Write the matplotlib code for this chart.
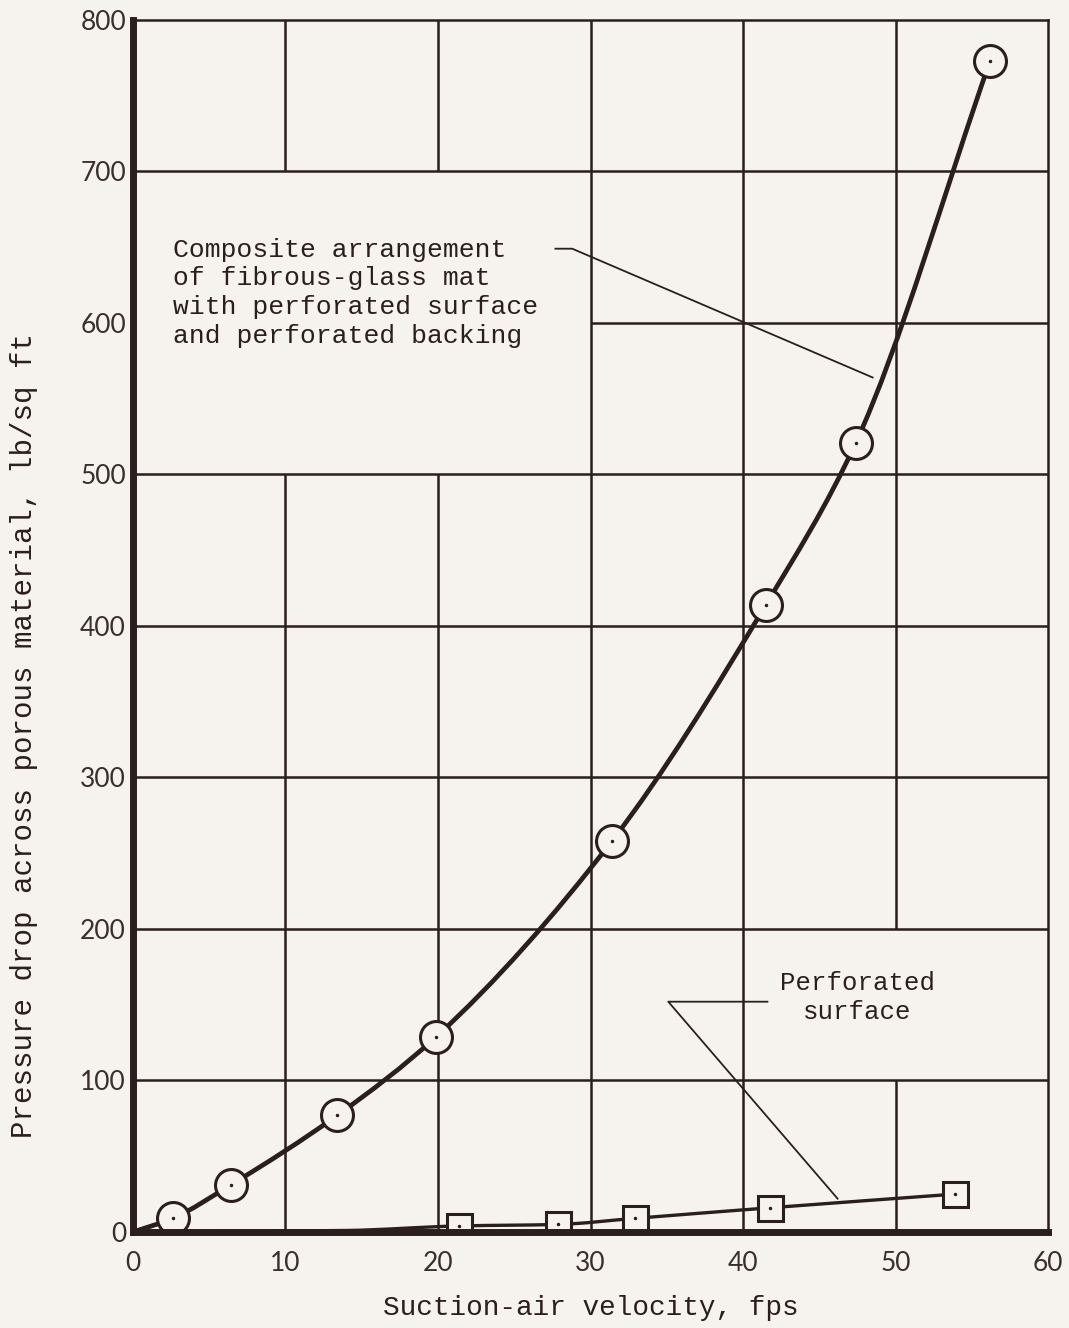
import numpy as np
import matplotlib
matplotlib.use("Agg")
import matplotlib.pyplot as plt
from matplotlib.path import Path
from matplotlib.patches import PathPatch

# values
composite_v = [2.6, 6.4, 13.4, 19.9, 31.4, 41.5, 47.4, 56.2]
composite_dp = [9, 31, 77, 129, 258, 414, 521, 773]
perforated_v = [21.4, 27.9, 32.9, 41.8, 53.9]
perforated_dp = [4, 5, 9, 16, 25]
x_ticks = [0, 10, 20, 30, 40, 50, 60]
y_ticks = [0, 100, 200, 300, 400, 500, 600, 700, 800]

ink = '#2a1e1e'
paper = '#f6f3ee'
mono = 'Liberation Mono'


def smooth_path(xs, ys):
    # faired curve through the read points: cubic bezier pieces with
    # monotone (Fritsch-Carlson) slopes
    x = np.asarray(xs, float)
    y = np.asarray(ys, float)
    h = np.diff(x)
    d = np.diff(y) / h
    m = np.zeros_like(x)
    m[0], m[-1] = d[0], d[-1]
    for i in range(1, len(x) - 1):
        if d[i - 1] * d[i] <= 0:
            m[i] = 0
        else:
            w1 = 2 * h[i] + h[i - 1]
            w2 = h[i] + 2 * h[i - 1]
            m[i] = (w1 + w2) / (w1 / d[i - 1] + w2 / d[i])
    verts = [(x[0], y[0])]
    codes = [Path.MOVETO]
    for i in range(len(x) - 1):
        verts += [(x[i] + h[i] / 3, y[i] + m[i] * h[i] / 3),
                  (x[i + 1] - h[i] / 3, y[i + 1] - m[i + 1] * h[i] / 3),
                  (x[i + 1], y[i + 1])]
        codes += [Path.CURVE4] * 3
    return Path(verts, codes)


fig = plt.figure(figsize=(10.69, 13.28), dpi=100, facecolor=paper)
ax = fig.add_axes([0.1244, 0.0723, 0.9804 - 0.1244, 0.985 - 0.0723])
ax.set_facecolor(paper)
ax.set_xlim(0, 60)
ax.set_ylim(0, 800)

# grid of the paper, with the blank patches left for the notes
gw = 1.8
ax.hlines([100, 200, 300, 400, 500, 700], 0, 60, color=ink, lw=gw, zorder=1)
ax.hlines(600, 30, 60, color=ink, lw=gw, zorder=1)
ax.vlines([30, 40], 0, 800, color=ink, lw=gw, zorder=1)
ax.vlines([10, 20], 0, 500, color=ink, lw=gw, zorder=1)
ax.vlines([10, 20], 700, 800, color=ink, lw=gw, zorder=1)
ax.vlines(50, 0, 100, color=ink, lw=gw, zorder=1)
ax.vlines(50, 200, 800, color=ink, lw=gw, zorder=1)

# curves
ax.add_patch(PathPatch(smooth_path([0] + composite_v, [0] + composite_dp),
                       fill=False, edgecolor=ink, lw=3.4, zorder=3))
ax.add_patch(PathPatch(smooth_path([0, 14] + perforated_v, [0, 1] + perforated_dp),
                       fill=False, edgecolor=ink, lw=2.4, zorder=3))

ax.plot(composite_v, composite_dp, 'o', ms=23, mfc=paper, mec=ink, mew=2.2, zorder=4)
ax.plot(perforated_v, perforated_dp, 's', ms=18, mfc=paper, mec=ink, mew=2.2, zorder=4)
ax.plot(composite_v + perforated_v, composite_dp + perforated_dp, '.', ms=3,
        color=ink, zorder=5)

# notes and leaders
ax.text(2.6, 620, 'Composite arrangement\nof fibrous-glass mat\nwith perforated surface\nand perforated backing',
        family=mono, fontsize=19, color=ink, ha='left', va='center', linespacing=1.25)
ax.plot([27.7, 28.8, 48.5], [649, 649, 564], color=ink, lw=1.3, zorder=2)

ax.text(47.5, 155, 'Perforated\nsurface', family=mono, fontsize=18.5, color=ink,
        ha='center', va='center', multialignment='center', linespacing=1.25)
ax.plot([41.6, 35.1, 46.2], [152, 152, 22], color=ink, lw=1.3, zorder=2)

# axes styling
for side in ['left', 'bottom']:
    ax.spines[side].set_linewidth(5)
for side in ['top', 'right']:
    ax.spines[side].set_linewidth(1.8)
for s in ax.spines.values():
    s.set_color(ink)
    s.set_zorder(6)

ax.set_xticks(x_ticks)
ax.set_yticks(y_ticks)
ax.tick_params(length=0, colors=ink)
ax.tick_params(axis='x', pad=14)
ax.tick_params(axis='y', pad=5)
for lab in ax.get_xticklabels() + ax.get_yticklabels():
    lab.set_family('Lato')
    lab.set_fontsize(19)
    lab.set_color('#3a2e2e')

ax.set_xlabel('Suction-air velocity, fps', family=mono, fontsize=20, color=ink)
ax.set_ylabel('Pressure drop across porous material, lb/sq ft', family=mono,
              fontsize=21, color=ink)
ax.xaxis.label.set_va('center')
ax.yaxis.label.set_va('center')
ax.xaxis.set_label_coords(0.5, -0.063)
ax.yaxis.set_label_coords(-0.119, 0.41)

fig.savefig('out.png', dpi=100, facecolor=paper)
